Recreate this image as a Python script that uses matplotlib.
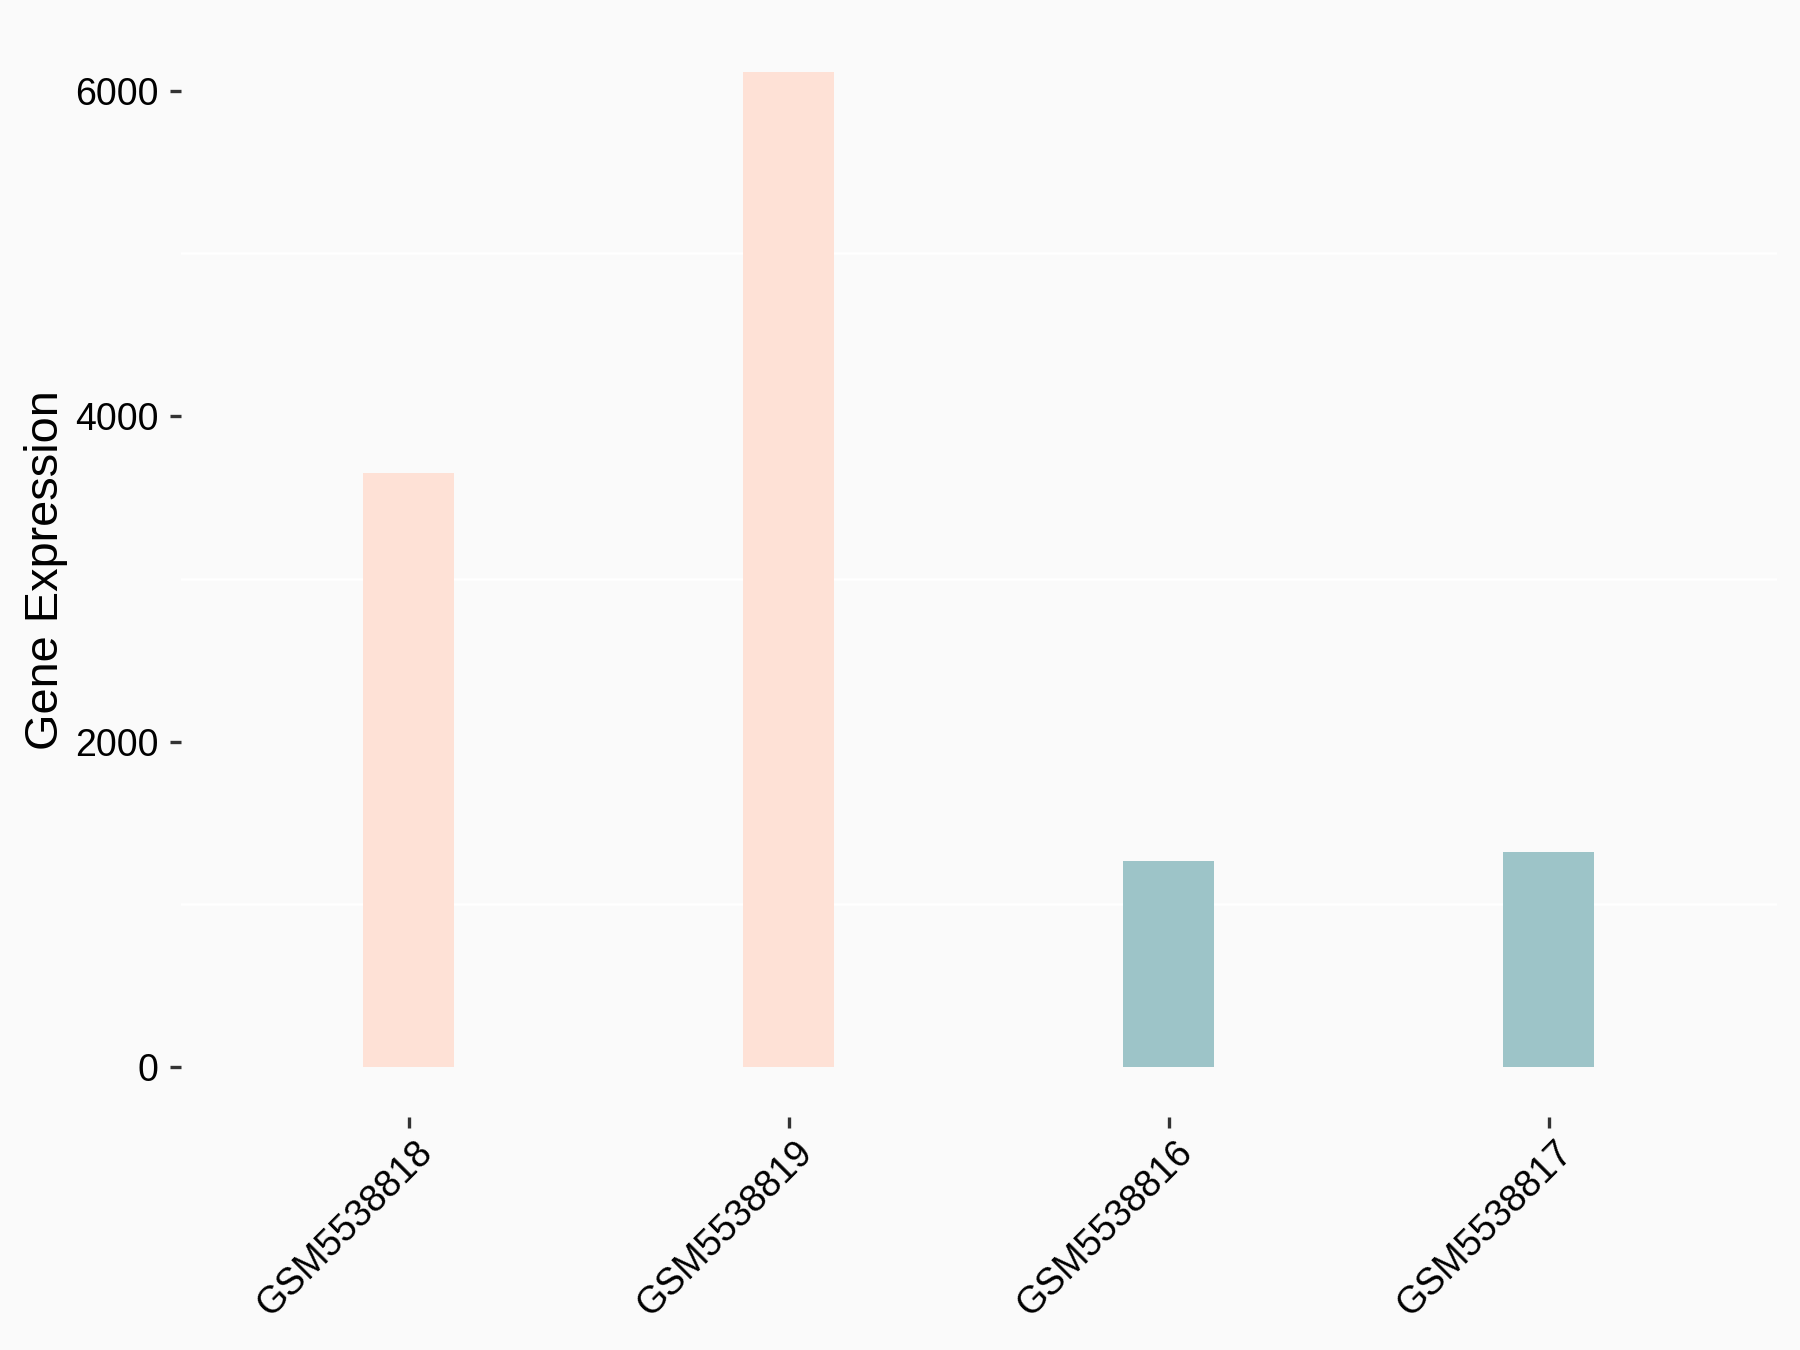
import matplotlib
matplotlib.use("Agg")
import matplotlib.pyplot as plt
import matplotlib.transforms as mtransforms
import numpy as np

samples = ["GSM5538818", "GSM5538819", "GSM5538816", "GSM5538817"]
expression = [3652, 6113, 1268, 1322]
groups = ["A", "A", "B", "B"]
group_colors = {"A": "#FEE1D6", "B": "#9DC4C8"}
y_ticks = [0, 2000, 4000, 6000]
y_minor = [1000, 3000, 5000]

plt.rcParams['font.family'] = ['Liberation Sans', 'DejaVu Sans']

fig = plt.figure(figsize=(12, 9), dpi=150, facecolor="#FAFAFA")
ax = fig.add_axes([0.1004, 0.1726, 0.8866, 0.8107])
ax.set_facecolor("#FAFAFA")

x = np.arange(len(samples))
ax.bar(x, expression, width=0.24, color=[group_colors[g] for g in groups], zorder=2)

ax.set_xlim(-0.6, len(samples) - 1 + 0.6)
ymax = max(expression)
ax.set_ylim(-0.05 * ymax, ymax * 1.05)

ax.set_yticks(y_ticks)
ax.set_yticklabels([str(v) for v in y_ticks])
ax.set_yticks(y_minor, minor=True)
ax.grid(axis="y", which="minor", color="white", linewidth=1.2, zorder=1)
ax.tick_params(axis="y", which="minor", length=0)

for s in ax.spines.values():
    s.set_visible(False)

ax.tick_params(axis="both", which="major", length=5.5, width=1.6, color="#333333",
               labelsize=18, labelcolor="black", pad=5)

ax.set_xticks(x)
ax.set_xticklabels(samples, rotation=45, ha="right", va="top", rotation_mode="anchor")
offset = mtransforms.ScaledTranslation(5 / 150, 4 / 150, fig.dpi_scale_trans)
for lab in ax.get_xticklabels():
    lab.set_transform(lab.get_transform() + offset)

ax.set_ylabel("Gene Expression", fontsize=22.5, labelpad=3.5)

fig.savefig("out.png", dpi=150, facecolor=fig.get_facecolor())
